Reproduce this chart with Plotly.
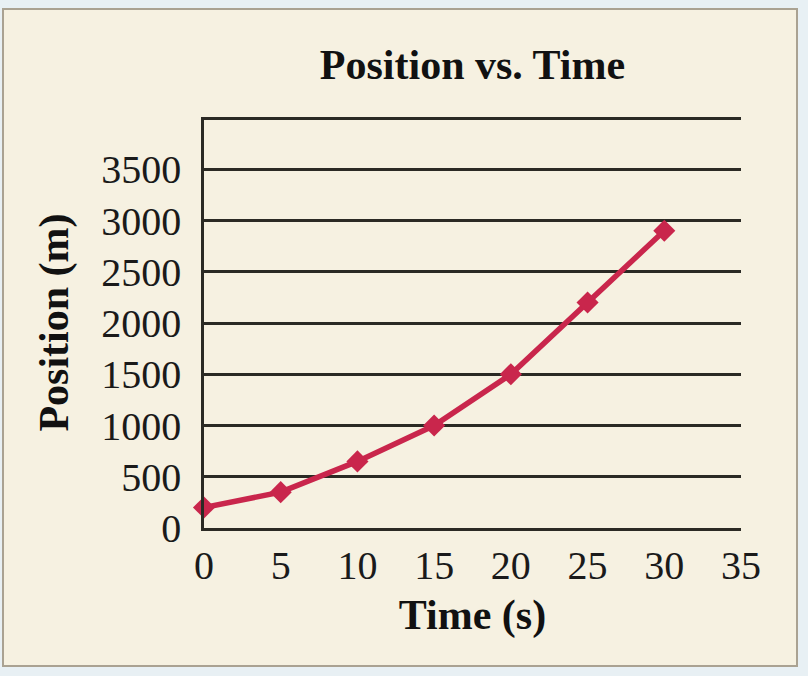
import plotly.graph_objects as go

time_s = [0, 5, 10, 15, 20, 25, 30]
position_m = [200, 350, 650, 1000, 1500, 2200, 2900]

x_ticks = [0, 5, 10, 15, 20, 25, 30, 35]
y_ticks = [0, 500, 1000, 1500, 2000, 2500, 3000, 3500, 4000]
y_tick_text = ["0", "500", "1000", "1500", "2000", "2500", "3000", "3500", ""]

SERIF = "Liberation Serif, Times New Roman, serif"
INK = "#2b2a24"
LINE_RED = "#c9264c"

fig = go.Figure()
fig.add_trace(go.Scatter(
    x=time_s, y=position_m, mode="lines+markers",
    line=dict(color=LINE_RED, width=5.5),
    marker=dict(symbol="diamond", size=17, color=LINE_RED),
    cliponaxis=False, showlegend=False,
))

fig.update_layout(
    width=808, height=676,
    margin=dict(l=204, r=67, t=117, b=148),
    paper_bgcolor="#e8f0f4",
    plot_bgcolor="rgba(0,0,0,0)",
    font=dict(family=SERIF, color="#1a1a1a"),
    title=dict(text="<b>Position vs. Time</b>", x=0.5, xref="paper", xanchor="center",
               y=1 - 64 / 676, yanchor="middle", font=dict(size=42, family=SERIF, color="#111")),
    shapes=[dict(type="rect", xref="paper", yref="paper", layer="below",
                 x0=(3 - 204) / 537, x1=(797 - 204) / 537,
                 y0=(528 - 666) / 411, y1=(528 - 9) / 411,
                 fillcolor="#f6f1e1", line=dict(color="#aaa292", width=2))],
)

fig.update_xaxes(
    range=[0, 35], tickvals=x_ticks, ticktext=[str(v) for v in x_ticks],
    showgrid=False, zeroline=False, showline=True, linecolor=INK, linewidth=2.5,
    ticks="", ticklabelstandoff=0, tickfont=dict(size=40, family=SERIF, color="#1a1a1a"),
    title=dict(text="<b>Time (s)</b>", standoff=13, font=dict(size=42, family=SERIF, color="#111")),
)
fig.update_yaxes(
    range=[0, 4010], tickvals=y_ticks, ticktext=y_tick_text,
    showgrid=True, gridcolor=INK, gridwidth=2.5, zeroline=False,
    showline=True, linecolor=INK, linewidth=2.5,
    ticks="", ticklabelstandoff=12, tickfont=dict(size=40, family=SERIF, color="#1a1a1a"),
    title=dict(text="<b>Position (m)</b>", standoff=20, font=dict(size=42, family=SERIF, color="#111")),
)

fig.write_html("out.html", config={"displayModeBar": False},
               post_script="document.body.style.margin='0';document.body.style.background='#e8f0f4';")
